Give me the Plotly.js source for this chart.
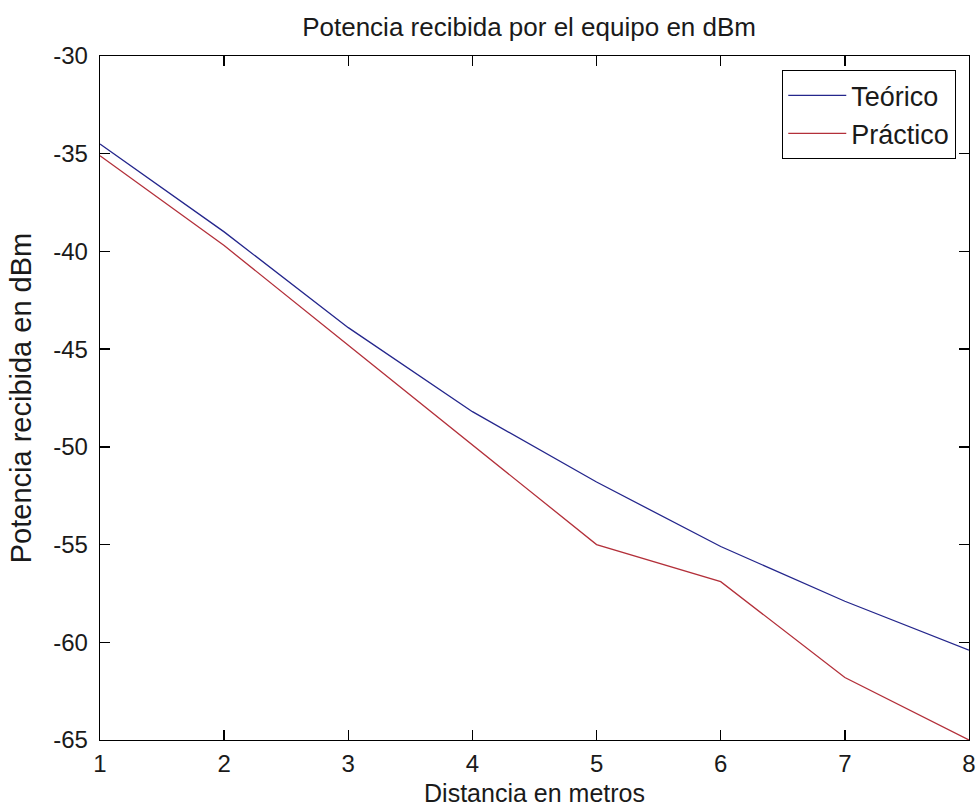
<!DOCTYPE html>
<html>
<head>
<meta charset="utf-8">
<script src="https://cdn.plot.ly/plotly-3.0.1.min.js"></script>
<style>html,body{margin:0;padding:0;background:#fff;}#chart{width:978px;height:809px;}</style>
</head>
<body>
<div id="chart"></div>
<script>
var distancia = [1, 2, 3, 4, 5, 6, 7, 8];
var teorico = [-34.5, -39.0, -43.9, -48.2, -51.8, -55.1, -57.9, -60.4];
var practico = [-35.1, -39.7, -44.8, -49.9, -55.0, -56.9, -61.8, -65.0];
var xTicks = [1, 2, 3, 4, 5, 6, 7, 8];
var yTicks = [-30, -35, -40, -45, -50, -55, -60, -65];

var FONT = '"Liberation Sans", Arial, sans-serif';

var traces = [
  {x: distancia, y: teorico, mode: 'lines', name: 'Teórico',
   line: {color: '#24268c', width: 1.3}},
  {x: distancia, y: practico, mode: 'lines', name: 'Práctico',
   line: {color: '#b3303a', width: 1.3}}
];

var axisCommon = {
  showgrid: false, zeroline: false,
  showline: true, linecolor: '#000', linewidth: 1.3, mirror: 'ticks',
  ticks: 'inside', ticklen: 10, tickwidth: 1.3, tickcolor: '#000',
  tickfont: {family: FONT, size: 24, color: '#1a1a1a'}
};

var layout = {
  width: 978, height: 809,
  paper_bgcolor: '#fff', plot_bgcolor: '#fff',
  margin: {l: 100, r: 9, t: 56, b: 69},
  font: {family: FONT, color: '#1a1a1a'},
  title: {text: 'Potencia recibida por el equipo en dBm', font: {family: FONT, size: 26, color: '#1a1a1a'},
          x: 0.541, xanchor: 'center', y: 0.967, yanchor: 'middle'},
  xaxis: Object.assign({}, axisCommon, {
    range: [1, 8], tickvals: xTicks, ticktext: xTicks.map(String),
    ticklabelstandoff: 2,
    title: {text: 'Distancia en metros', font: {family: FONT, size: 25, color: '#1a1a1a'}, standoff: 8}
  }),
  yaxis: Object.assign({}, axisCommon, {
    range: [-65, -30], tickvals: yTicks, ticktext: yTicks.map(String),
    ticklabelstandoff: 6,
    title: {text: 'Potencia recibida en dBm', font: {family: FONT, size: 29, color: '#1a1a1a'}, standoff: 13}
  }),
  showlegend: true,
  legend: {
    x: 0.985, xanchor: 'right', y: 0.9795, yanchor: 'top',
    bgcolor: '#fff', bordercolor: '#000', borderwidth: 1.3,
    font: {family: FONT, size: 27, color: '#1a1a1a'},
    itemwidth: 58
  }
};

Plotly.newPlot('chart', traces, layout, {displayModeBar: false, staticPlot: true});
</script>
</body>
</html>
